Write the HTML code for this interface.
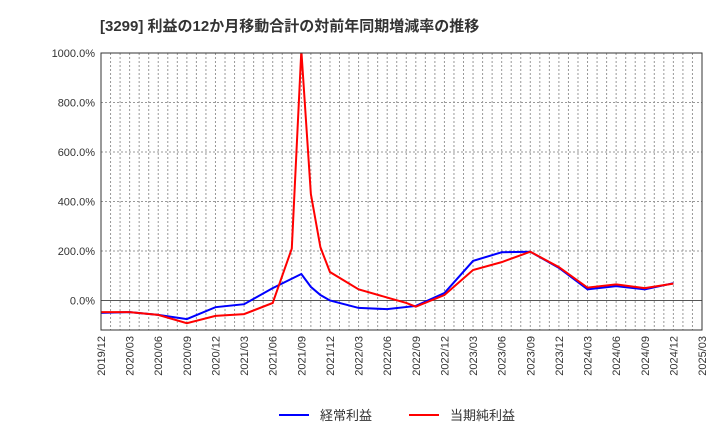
<!DOCTYPE html>
<html><head><meta charset="utf-8"><style>
body{margin:0;background:#fff;font-family:"Liberation Sans","Noto Sans CJK JP",sans-serif}
</style></head><body>
<svg id="c" width="720" height="440" xmlns="http://www.w3.org/2000/svg">
<text x="100" y="31" font-size="15" font-weight="bold" fill="#333" font-family="Liberation Sans, Noto Sans CJK JP, sans-serif">[3299]  利益の12か月移動合計の対前年同期増減率の推移</text>
<g id="grid"></g><g id="series"></g><g id="axes"></g>
<g>
<line x1="279" y1="415" x2="309" y2="415" stroke="#0000ff" stroke-width="2"/>
<text x="320" y="420" font-size="13" fill="#333">経常利益</text>
<line x1="409" y1="415" x2="439" y2="415" stroke="#ff0000" stroke-width="2"/>
<text x="450" y="420" font-size="13" fill="#333">当期純利益</text>
</g>
</svg>
<script>
const tickLabels=["2019/12","2020/03","2020/06","2020/09","2020/12","2021/03","2021/06","2021/09","2021/12","2022/03","2022/06","2022/09","2022/12","2023/03","2023/06","2023/09","2023/12","2024/03","2024/06","2024/09","2024/12","2025/03"];
const yTicks=[0,200,400,600,800,1000];
// month offsets from 2019/12
const blueMonths=[0,3,6,9,12,15,18,21,22,23,24,27,30,33,36,39,42,45,48,51,54,57,60];
const blueValues=[-50,-47,-58,-75,-27,-15,50,107,55,22,0,-30,-35,-22,30,160,195,197,132,45,58,45,70];
const redMonths=[0,3,6,9,12,15,18,20,21,22,23,24,27,30,32,33,36,39,42,45,48,51,54,57,60];
const redValues=[-47,-47,-58,-92,-62,-55,-10,210,1010,430,215,115,45,12,-10,-25,22,123,155,197,135,52,65,50,68];
const NS="http://www.w3.org/2000/svg";
const L=101,R=702,T=53,B=330;
const xs=m=>L+(R-L)*m/63;
const ys=v=>300.5-(v)*0.2475;
function mk(t,a,p){const e=document.createElementNS(NS,t);for(const k in a)e.setAttribute(k,a[k]);p.appendChild(e);return e;}
const grid=document.getElementById('grid'),axes=document.getElementById('axes'),ser=document.getElementById('series');
for(let m=1;m<63;m++){const l=mk('line',{x1:xs(m),x2:xs(m),y1:T,y2:B,stroke:'#999','stroke-dasharray':'2,2','stroke-width':1},grid);

}
yTicks.forEach(v=>{const y=ys(v);
const l=mk('line',{x1:L,x2:R,y1:y,y2:y,stroke:v===0?'#555':'#999','stroke-dasharray':v===0?'':'2,2','stroke-width':1},grid);


const t=mk('text',{x:L-6,y:y+4,'text-anchor':'end','font-size':11,fill:'#333'},axes);t.textContent=v.toFixed(1)+'%';

});
const fr=mk('rect',{x:L,y:T,width:R-L,height:B-T,fill:'none',stroke:'#333'},axes);


tickLabels.forEach((s,i)=>{const x=xs(i*3);const t=mk('text',{transform:`translate(${x+4},${B+6}) rotate(-90)`,'text-anchor':'end','font-size':11,fill:'#333'},axes);t.textContent=s;

});
const cp=mk('clipPath',{id:'cp'},ser);mk('rect',{x:L,y:T,width:R-L,height:B-T},cp);
function line(ms,vs,col,name){const p=mk('polyline',{points:ms.map((m,i)=>xs(m)+','+ys(vs[i])).join(' '),fill:'none',stroke:col,'stroke-width':2,'clip-path':'url(#cp)'},ser);

}
line(blueMonths,blueValues,'#0000ff','ordinary-profit-line');
line(redMonths,redValues,'#ff0000','net-profit-line');
</script>
</body></html>
